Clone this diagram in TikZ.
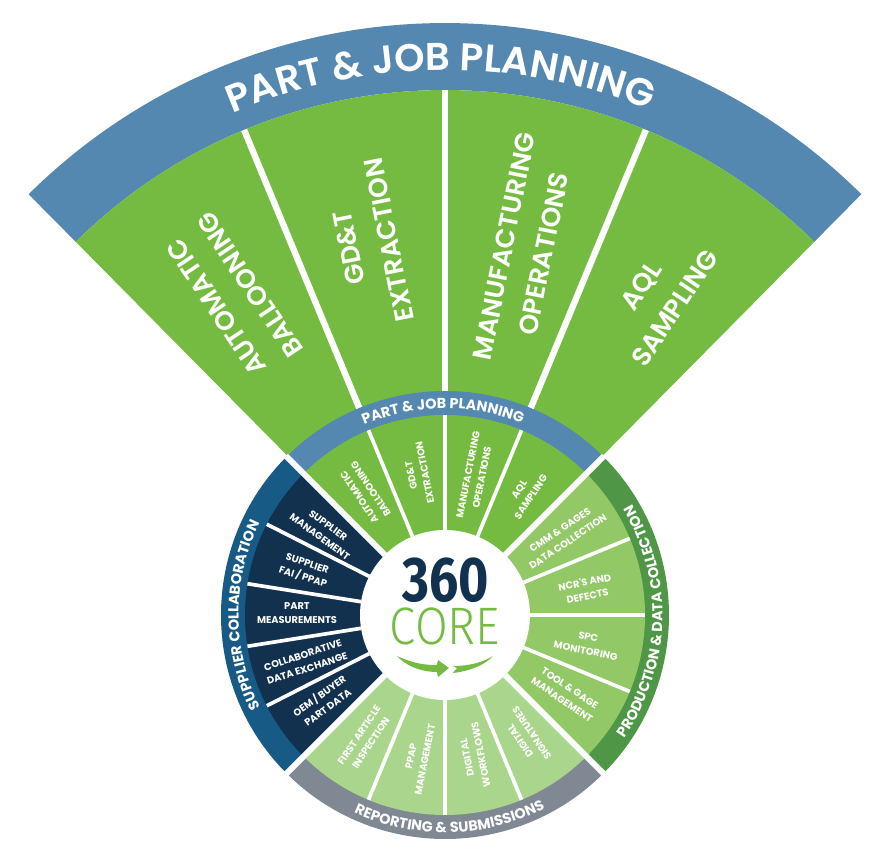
\documentclass[tikz,border=0pt]{standalone}
\usepackage{fontspec}
\setmainfont{Poppins}[BoldFont=Poppins SemiBold]
\newfontfamily\heavyfont{Poppins Bold}
\newfontfamily\digitfont[FakeStretch=0.82]{Fira Sans Bold}
\newfontfamily\corefont[FakeStretch=0.9]{Fira Sans Light}
\usepackage{tikz}
\usetikzlibrary{decorations.text}
\definecolor{jobgreen}{HTML}{76BB41}
\definecolor{jobblue}{HTML}{5488B0}
\definecolor{prodgreen}{HTML}{92C966}
\definecolor{prodband}{HTML}{4F9746}
\definecolor{reportgreen}{HTML}{A9D68C}
\definecolor{reportband}{HTML}{808893}
\definecolor{suppnavy}{HTML}{12314E}
\definecolor{suppband}{HTML}{175A85}
\tikzstyle{bigdivider}=[draw=white,line width=3.6pt]
\tikzstyle{divider}=[draw=white,line width=2.1pt]
\tikzstyle{quadrant}=[draw=white,line width=3.4pt]
\tikzstyle{biglabel}=[text=white,align=center,inner sep=0pt,font=\bfseries\fontsize{15}{23}\selectfont]
\tikzstyle{smalllabel}=[text=white,align=center,inner sep=0pt,font=\heavyfont\fontsize{5.6}{8}\selectfont]
\newcommand{\bandfont}{\heavyfont\fontsize{8.2}{9}\selectfont\color{white}}
\newcommand{\bigbandfont}{\bfseries\fontsize{22}{24}\selectfont\color{white}}

\begin{document}
\begin{tikzpicture}
    \useasboundingbox (-8.9,-4.98) rectangle (8.96,12.3);

    % First we draw the big fan
    \fill[jobblue] (134.7:10.5) -- (134.7:11.84) arc (134.7:45.3:11.84) -- (45.3:10.5) arc (45.3:134.7:10.5) -- cycle;
    \fill[jobgreen] (134.7:4.4) -- (134.7:10.5) arc (134.7:45.3:10.5) -- (45.3:4.4) -- cycle;
    \foreach \ang in {112.5,90,67.5}
        \path[bigdivider] (\ang:4.4) -- (\ang:10.5);

    % Then the wheel, one quadrant at a time
    \foreach \from/\to/\inner/\outer in {135/45/jobgreen/jobblue, 45/-45/prodgreen/prodband,
    -45/-135/reportgreen/reportband, 225/135/suppnavy/suppband} {
        \fill[\outer] (0,0) -- (\from:4.48) arc (\from:\to:4.48) -- cycle;
        \fill[\inner] (0,0) -- (\from:4) arc (\from:\to:4) -- cycle;
    }
    \foreach \ang in {112.5,90,67.5, 22.5,0,-22.5, -67.5,-90,-112.5, 153,171,189,207}
        \path[divider] (\ang:1.7) -- (\ang:4);
    \foreach \ang in {135,45,-45,-135}
        \path[quadrant] (\ang:1.7) -- (\ang:4.5);

    \node[circle,fill=white,minimum size=3.4cm,inner sep=0pt] (hub) at (0,0) {};

    % Labels of the big fan
    \foreach \pos/\name/\rot/\txt in {{(-4.24,6.38)/bigauto/123.75/{AUTOMATIC\\BALLOONING}},
    {(-1.52,7.42)/biggdt/101.25/{GD\&T\\EXTRACTION}},
    {(1.58,7.3)/bigmanu/78.75/{MANUFACTURING\\OPERATIONS}},
    {(4.26,6.36)/bigaql/56.25/{AQL\\SAMPLING}}}
        \node[biglabel,rotate=\rot] (\name) at \pos {\txt};

    % Labels of the wheel
    \foreach \pos/\name/\rot/\txt in {{(-1.6,2.44)/auto/123.75/{AUTOMATIC\\BALLOONING}},
    {(-0.54,2.82)/gdt/101.25/{GD\&T\\EXTRACTION}},
    {(0.6,2.78)/manu/78.75/{MANUFACTURING\\OPERATIONS}},
    {(1.6,2.44)/aql/56.25/{AQL\\SAMPLING}},
    {(2.38,1.58)/cmm/33.75/{CMM \& GAGES\\DATA COLLECTION}},
    {(2.82,0.52)/ncr/11.25/{NCR'S AND\\DEFECTS}},
    {(2.84,-0.58)/spc/-11.25/{SPC\\MONITORING}},
    {(2.42,-1.58)/tool/-33.75/{TOOL \& GAGE\\MANAGEMENT}},
    {(1.62,-2.44)/sign/123.75/{DIGITAL\\SIGNATURES}},
    {(0.58,-2.82)/flow/101.25/{DIGITAL\\WORKFLOWS}},
    {(-0.54,-2.86)/ppap/78.75/{PPAP\\MANAGEMENT}},
    {(-1.6,-2.48)/first/56.25/{FIRST ARTICLE\\INSPECTION}},
    {(-2.44,-1.72)/oem/36/{OEM / BUYER\\PART DATA}},
    {(-2.8,-0.94)/collab/18/{COLLABORATIVE\\DATA EXCHANGE}},
    {(-2.96,0.04)/part/0/{PART\\MEASUREMENTS}},
    {(-2.8,0.88)/fai/-18/{SUPPLIER\\FAI / PPAP}},
    {(-2.42,1.68)/mgmt/-36/{SUPPLIER\\MANAGEMENT}}}
        \node[smalllabel,rotate=\rot] (\name) at \pos {\txt};

    % Curved titles
    \path[decorate,decoration={text along path,text align=center,
        text={|\bigbandfont|PART {\&} JOB PLANNING}}] (135.5:10.9) arc (135.5:45.5:10.9);
    \path[decorate,decoration={text along path,text align=center,
        text={|\bandfont|PART {\&} JOB PLANNING}}] (135.6:4.13) arc (135.6:45.6:4.13);
    \path[decorate,decoration={text along path,text align=center,
        text={|\bandfont|PRODUCTION {\&} DATA COLLECTION}}] (-47:4.35) arc (-47:43:4.35);
    \path[decorate,decoration={text along path,text align=center,
        text={|\bandfont|REPORTING {\&} SUBMISSIONS}}] (-133.7:4.35) arc (-133.7:-43.7:4.35);
    \path[decorate,decoration={text along path,text align=center,
        text={|\bandfont|SUPPLIER COLLABORATION}}] (225:4.13) arc (225:135:4.13);

    % The hub
    \node[text=suppnavy,inner sep=0pt,font=\digitfont\fontsize{36}{36}\selectfont] (three) at (0.01,0.69) {360};
    \node[text=jobgreen,inner sep=0pt,font=\corefont\fontsize{30}{30}\selectfont] (core) at (0,-0.22) {CORE};
    \fill[jobgreen] (-0.96,-0.82) .. controls (-0.6,-0.98) and (-0.4,-1.0) .. (-0.16,-1.0) -- (-0.14,-0.9) -- (0.08,-1.06)
        -- (-0.14,-1.24) -- (-0.16,-1.14) .. controls (-0.5,-1.14) and (-0.8,-1.0) .. (-0.96,-0.82) -- cycle;
    \fill[jobgreen] (0.96,-0.82) .. controls (0.7,-0.98) and (0.4,-1.02) .. (0.16,-1.02) -- (0.24,-1.06) -- (0.16,-1.16)
        .. controls (0.5,-1.12) and (0.8,-1.0) .. (0.96,-0.82) -- cycle;
\end{tikzpicture}
\end{document}
